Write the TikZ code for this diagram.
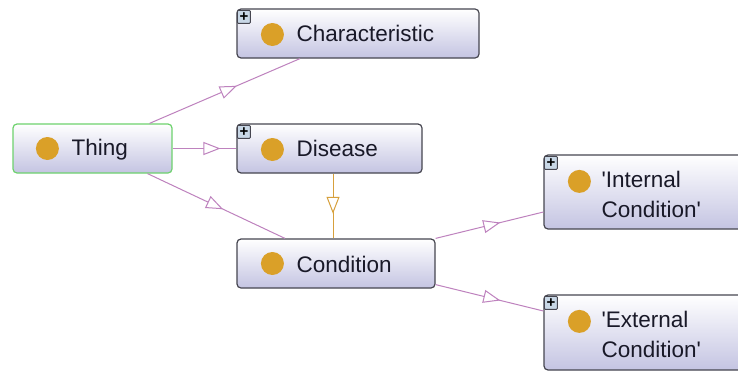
\documentclass[tikz,border=0pt]{standalone}
\usepackage{fontspec}
\setmainfont{Liberation Sans}
\usetikzlibrary{calc,arrows.meta,decorations.markings}
\definecolor{boxborder}{RGB}{70,70,80}
\definecolor{boxbottom}{RGB}{196,196,226}
\definecolor{dotcol}{RGB}{218,160,40}
\definecolor{isa}{RGB}{190,130,190}
\definecolor{eqv}{RGB}{215,160,60}
\definecolor{txt}{RGB}{25,25,40}
\definecolor{thingborder}{RGB}{110,210,110}
\definecolor{plusfill}{RGB}{200,215,230}
\tikzset{
  cls/.style={draw=boxborder, line width=1.2pt, rounded corners=4pt, top color=white, bottom color=boxbottom, minimum height=49pt, inner sep=0pt},
  dotnode/.style={circle, fill=dotcol, minimum size=23pt, inner sep=0pt},
  lbl/.style={anchor=west, text=txt, font=\fontsize{22.5}{30}\selectfont, inner sep=0pt, align=left},
  plusbox/.style={draw=boxborder, line width=0.9pt, rounded corners=1pt, fill=plusfill, minimum size=13pt, inner sep=0pt, font=\bfseries\fontsize{15}{15}\selectfont},
  isaedge/.style={draw=isa, line width=1pt, postaction={decorate}, decoration={markings, mark=at position #1 with {\arrow{Triangle[length=17pt,width=13pt,fill=white,line width=1pt]}}}},
  eqvedge/.style={draw=eqv, line width=1pt, postaction={decorate}, decoration={markings, mark=at position #1 with {\arrow{Triangle[length=17pt,width=13pt,fill=white,line width=1pt]}}}}
}
\begin{document}
\begin{tikzpicture}[x=1pt,y=-1pt]
\useasboundingbox[fill=white] (0,0) rectangle (738,372);
\begin{scope}
\clip (0,0) rectangle (738,372);
% nodes
\node[cls, draw=thingborder, minimum width=159pt] (thing) at (92.5,148.5) {};
\node[cls, minimum width=242pt] (char) at (358,33.5) {};
\node[cls, minimum width=185pt] (dis) at (329.5,148.5) {};
\node[cls, minimum width=198pt] (cond) at (336,263.5) {};
\node[cls, minimum width=204pt, minimum height=74pt] (int) at (646,192) {};
\node[cls, minimum width=204pt, minimum height=75pt] (ext) at (646,332.5) {};
% decorations of nodes
\node[dotnode] (thingdot) at ($(thing.west)+(35,0)$) {};
\node[lbl] (thinglbl) at ($(thing.west)+(59,1)$) {Thing};
\node[plusbox] (charplus) at ($(char.north west)+(7.5,8.5)$) {+};
\node[dotnode] (chardot) at ($(char.west)+(36,1)$) {};
\node[lbl] (charlbl) at ($(char.west)+(60,0)$) {Characteristic};
\node[plusbox] (displus) at ($(dis.north west)+(7.5,8.5)$) {+};
\node[dotnode] (disdot) at ($(dis.west)+(36,1)$) {};
\node[lbl] (dislbl) at ($(dis.west)+(60,0)$) {Disease};
\node[dotnode] (conddot) at ($(cond.west)+(36,0)$) {};
\node[lbl] (condlbl) at ($(cond.west)+(60,1)$) {Condition};
\node[plusbox] (intplus) at ($(int.north west)+(7.5,8.5)$) {+};
\node[dotnode] (intdot) at ($(int.north west)+(36,27)$) {};
\node[lbl] (intlbl) at ($(int.west)+(58,2)$) {\textquotesingle Internal\\Condition\textquotesingle};
\node[plusbox] (extplus) at ($(ext.north west)+(7.5,8.5)$) {+};
\node[dotnode] (extdot) at ($(ext.north west)+(36,27)$) {};
\node[lbl] (extlbl) at ($(ext.west)+(58,2)$) {\textquotesingle External\\Condition\textquotesingle};
\end{scope}
% edges
\draw[isaedge=0.58] ([xshift=57pt]thing.north) -- ([xshift=-58pt]char.south);
\draw[isaedge=0.75] (thing.east) -- (dis.west);
\draw[isaedge=0.55] ([xshift=55pt]thing.south) -- ([xshift=-51pt]cond.north);
\draw[eqvedge=0.62] ([xshift=3.5pt]dis.south) -- ([xshift=-3pt]cond.north);
\draw[isaedge=0.6] (cond.north east) -- ([yshift=-20pt]int.west);
\draw[isaedge=0.6] ([yshift=4pt]cond.south east) -- ([yshift=21.5pt]ext.west);
\end{tikzpicture}
\end{document}
